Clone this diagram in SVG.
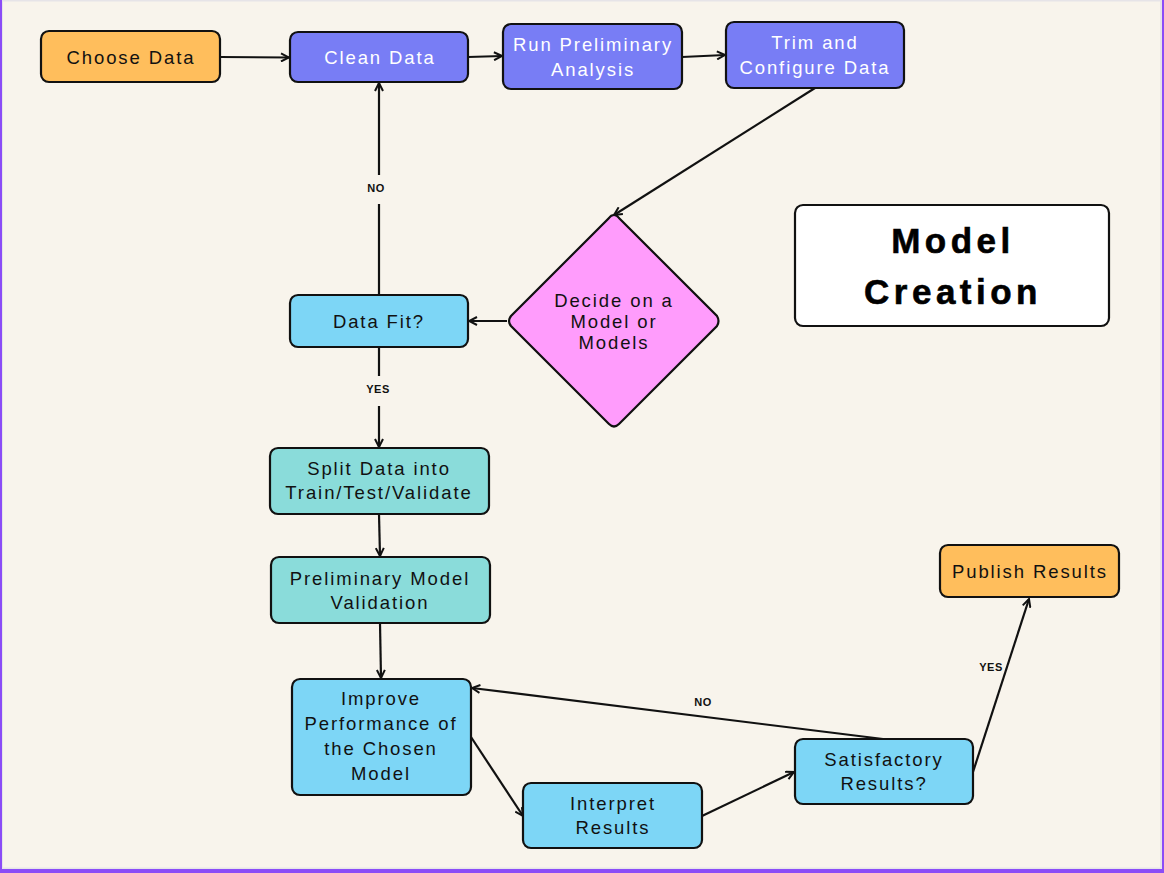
<svg xmlns="http://www.w3.org/2000/svg" width="1164" height="873" viewBox="0 0 1164 873">
<style>
.bx{stroke:#111;stroke-width:2.2}
.t{font-family:"Liberation Sans",Arial,sans-serif;font-size:18.5px;letter-spacing:1.9px;text-anchor:middle;dominant-baseline:central;fill:#111}
.w{fill:#fff}
.c{fill:none;stroke:#111;stroke-width:2.2}
.lb{font-family:"Liberation Sans",Arial,sans-serif;font-size:11px;font-weight:bold;text-anchor:middle;dominant-baseline:central;fill:#111;letter-spacing:0.5px}
.ttl{font-family:"Liberation Sans",Arial,sans-serif;font-size:35px;font-weight:bold;letter-spacing:4.5px;text-anchor:middle;dominant-baseline:central;fill:#000;stroke:#000;stroke-width:0.6}
</style>
<defs>
<marker id="ah" viewBox="0 0 10 10" refX="9" refY="5" markerWidth="10" markerHeight="10" markerUnits="userSpaceOnUse" orient="auto">
<path d="M1,1 L9,5 L1,9" fill="none" stroke="#111" stroke-width="2"/>
</marker>
</defs>
<rect x="0" y="0" width="1164" height="873" fill="#8B4CF7"/>
<rect x="2" y="0" width="1160" height="869" fill="#E6E4E8"/>
<rect x="3" y="1.5" width="1157" height="866" fill="#F8F4EC"/>

<g id="connectors">
<line class="c" x1="220" y1="57" x2="289" y2="57.5" marker-end="url(#ah)"/>
<line class="c" x1="468" y1="57" x2="502" y2="56" marker-end="url(#ah)"/>
<line class="c" x1="682" y1="57" x2="725" y2="55" marker-end="url(#ah)"/>
<line class="c" x1="815" y1="88" x2="614" y2="215" marker-end="url(#ah)"/>
<line class="c" x1="507" y1="321" x2="469" y2="321" marker-end="url(#ah)"/>
<line class="c" x1="379" y1="295" x2="379" y2="83" marker-end="url(#ah)"/>
<line class="c" x1="379" y1="347" x2="379" y2="447" marker-end="url(#ah)"/>
<line class="c" x1="379" y1="514" x2="380" y2="556" marker-end="url(#ah)"/>
<line class="c" x1="380" y1="623" x2="381" y2="678" marker-end="url(#ah)"/>
<line class="c" x1="471" y1="737" x2="523" y2="816" marker-end="url(#ah)"/>
<line class="c" x1="702" y1="816" x2="794" y2="772" marker-end="url(#ah)"/>
<line class="c" x1="883" y1="739" x2="472" y2="688" marker-end="url(#ah)"/>
<line class="c" x1="973" y1="772" x2="1029" y2="599" marker-end="url(#ah)"/>
<rect x="362" y="175" width="30" height="29" fill="#F8F4EC"/>
<text class="lb" x="376" y="188">NO</text>
<rect x="360" y="376" width="36" height="30" fill="#F8F4EC"/>
<text class="lb" x="378" y="389">YES</text>
<text class="lb" x="703" y="702">NO</text>
<text class="lb" x="991" y="667">YES</text>
</g>

<g id="choose-data">
<rect class="bx" x="41" y="31" width="179" height="51" rx="8" fill="#FFBE5C"/>
<text class="t" x="131" y="57">Choose Data</text>
</g>
<g id="clean-data">
<rect class="bx" x="290" y="32" width="178" height="50" rx="8" fill="#787DF5"/>
<text class="t w" x="380" y="57">Clean Data</text>
</g>
<g id="run-preliminary">
<rect class="bx" x="503" y="24" width="179" height="65" rx="8" fill="#787DF5"/>
<text class="t w" x="593" y="44">Run Preliminary</text>
<text class="t w" x="593" y="69">Analysis</text>
</g>
<g id="trim-configure">
<rect class="bx" x="726" y="22" width="178" height="66" rx="8" fill="#787DF5"/>
<text class="t w" x="815" y="42">Trim and</text>
<text class="t w" x="815" y="67">Configure Data</text>
</g>
<g id="decide-model">
<path class="bx" d="M614,215 Q617,215 619,218 L717,316 Q720,321 717,326 L619,424 Q614,429 609,424 L511,326 Q507,321 511,316 L609,218 Q611,215 614,215 Z" fill="#FF9CFC"/>
<text class="t" x="614" y="300">Decide on a</text>
<text class="t" x="614" y="321">Model or</text>
<text class="t" x="614" y="342">Models</text>
</g>
<g id="data-fit">
<rect class="bx" x="290" y="295" width="178" height="52" rx="8" fill="#7DD6F6"/>
<text class="t" x="379" y="321">Data Fit?</text>
</g>
<g id="split-data">
<rect class="bx" x="270" y="448" width="219" height="66" rx="8" fill="#8ADCDA"/>
<text class="t" x="379" y="468">Split Data into</text>
<text class="t" x="379" y="492">Train/Test/Validate</text>
</g>
<g id="preliminary-validation">
<rect class="bx" x="271" y="557" width="219" height="66" rx="8" fill="#8ADCDA"/>
<text class="t" x="380" y="578">Preliminary Model</text>
<text class="t" x="380" y="602">Validation</text>
</g>
<g id="improve-performance">
<rect class="bx" x="292" y="679" width="179" height="116" rx="8" fill="#7DD6F6"/>
<text class="t" x="381" y="698">Improve</text>
<text class="t" x="381" y="723">Performance of</text>
<text class="t" x="381" y="748">the Chosen</text>
<text class="t" x="381" y="773">Model</text>
</g>
<g id="interpret-results">
<rect class="bx" x="523" y="783" width="179" height="65" rx="8" fill="#7DD6F6"/>
<text class="t" x="613" y="803">Interpret</text>
<text class="t" x="613" y="827">Results</text>
</g>
<g id="satisfactory-results">
<rect class="bx" x="795" y="739" width="178" height="65" rx="8" fill="#7DD6F6"/>
<text class="t" x="884" y="759">Satisfactory</text>
<text class="t" x="884" y="783">Results?</text>
</g>
<g id="publish-results">
<rect class="bx" x="940" y="545" width="179" height="52" rx="8" fill="#FFBE5C"/>
<text class="t" x="1030" y="571">Publish Results</text>
</g>
<g id="title">
<rect class="bx" x="795" y="205" width="314" height="121" rx="8" fill="#fff"/>
<text class="ttl" x="953" y="240">Model</text>
<text class="ttl" x="953" y="291">Creation</text>
</g>
</svg>
